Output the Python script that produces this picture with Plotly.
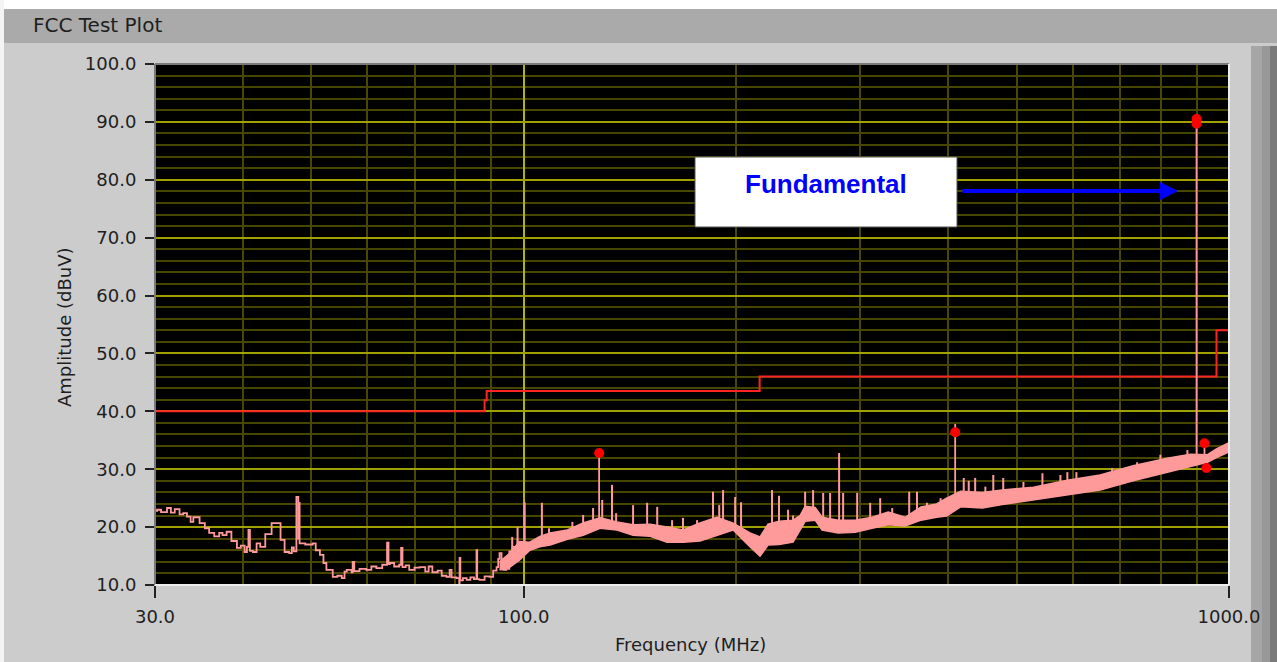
import plotly.graph_objects as go
import math

# ---------------- data ----------------
# FCC limit line (dBuV) vs frequency (MHz), step shape
limit_freq = [30.0, 88.0, 88.6, 216.0, 960.0, 1000.0]
limit_dbuv = [40.0, 41.9, 43.5, 46.0, 54.0, 54.0]

# low-frequency measured trace (thin line)
trace_freq = [30.0, 30.2, 30.6, 31.2, 31.6, 32.0, 32.5, 32.9, 33.3, 33.7, 34.0, 34.7, 35.3,
              35.8, 36.4, 37.0, 37.4, 37.9, 38.5, 39.2, 39.7, 40.2, 40.5, 40.7, 40.9, 41.3,
              41.8, 42.3, 43.0, 43.9, 44.6, 45.2, 45.8, 46.5, 46.9, 47.2, 47.6, 47.9, 48.0,
              48.1, 49.0, 50.2, 50.7, 51.4, 52.0, 52.5, 53.6, 54.4, 55.2, 55.7, 56.1, 57.0,
              57.2, 57.5, 58.5, 59.8, 60.8, 61.8, 63.0, 64.0, 64.3, 64.6, 65.5, 66.6, 67.0,
              67.3, 68.0, 68.8, 70.0, 71.2, 72.5, 73.3, 74.2, 75.5, 76.5, 77.7, 78.5, 79.0,
              80.3, 81.0, 81.1, 81.3, 82.0, 83.0, 84.0, 85.0, 85.7, 85.9, 86.5, 88.0, 89.4,
              90.5, 91.5, 92.0, 92.4, 93.0, 93.5, 94.5, 95.4, 96.4, 97.2, 98.0]
trace_dbuv = [22.8, 23.0, 22.6, 23.3, 22.5, 23.1, 22.2, 22.4, 21.8, 20.9, 21.7, 20.7, 19.8,
              19.0, 18.4, 19.0, 18.6, 19.2, 17.6, 16.4, 16.8, 15.7, 16.6, 19.5, 15.9, 15.7,
              17.2, 16.6, 18.8, 20.7, 20.7, 17.8, 15.7, 15.5, 16.5, 15.8, 25.2, 18.0, 24.2,
              17.2, 17.0, 17.2, 16.0, 15.2, 13.8, 12.6, 11.4, 11.6, 11.2, 12.3, 12.6, 12.2,
              14.0, 12.4, 12.8, 12.6, 13.2, 12.9, 13.5, 17.3, 13.6, 13.8, 13.2, 13.5, 16.4,
              13.1, 13.4, 12.6, 13.0, 13.1, 12.3, 13.2, 12.2, 12.5, 11.6, 11.4, 12.6, 11.3,
              11.2, 10.3, 14.7, 10.8, 11.2, 10.9, 11.3, 11.0, 16.0, 11.0, 10.9, 11.5, 11.4,
              12.5, 13.1, 14.5, 15.5, 13.5, 12.6, 12.8, 15.8, 16.6, 15.2, 18.0]

# dense noise band above ~92 MHz: lower and upper edges
band_freq = [92.4, 95.6, 98.6, 102.0, 105.4, 109.0, 115.3, 121.4, 128.3, 135.6, 142.9,
             151.1, 159.7, 168.2, 177.8, 187.9, 198.1, 209.3, 216.3, 222.0, 230.1, 240.9,
             246.5, 250.6, 258.9, 264.9, 279.1, 295.1, 311.9, 328.7, 347.4, 365.9, 385.0,
             397.7, 416.4, 447.0, 477.0, 528.1, 589.9, 656.6, 731.2, 817.8, 881.7, 932.2,
             960.0, 996.8, 1000.0]
band_low = [12.6, 13.1, 14.3, 16.0, 16.6, 16.9, 17.9, 18.6, 19.8, 19.5, 18.6,
            18.4, 17.4, 17.4, 17.6, 18.6, 19.5, 16.6, 15.0, 16.9, 17.0, 17.4,
            19.4, 21.0, 21.2, 19.5, 19.0, 19.1, 19.8, 20.4, 20.2, 21.2, 21.7,
            21.9, 23.5, 23.3, 23.9, 24.7, 25.5, 26.4, 28.0, 29.5, 30.4, 31.2,
            32.0, 32.8, 33.0]
band_high = [14.0, 15.5, 17.5, 17.4, 18.4, 19.0, 19.5, 20.7, 21.6, 20.9, 20.4,
             20.5, 20.0, 19.5, 20.7, 21.7, 20.7, 19.0, 18.3, 20.5, 21.0, 21.2,
             22.0, 23.6, 23.4, 21.7, 21.2, 21.2, 21.7, 22.6, 21.7, 23.5, 24.0,
             25.0, 26.2, 26.0, 26.4, 26.9, 28.1, 29.0, 30.6, 31.9, 32.6, 32.5,
             33.5, 34.5, 34.6]

# narrow spurious spikes above the band
spike_freq = [96.3, 98.0, 100.3, 106.1, 108.6, 117.2, 121.4, 125.4, 129.2, 133.4, 135.2,
              142.9, 149.6, 154.6, 162.3, 168.2, 176.1, 185.5, 189.3, 191.7, 199.4, 203.3,
              224.9, 230.1, 237.0, 240.9, 250.6, 257.2, 265.8, 271.9, 280.0, 283.7, 297.0,
              309.9, 320.2, 333.0, 352.0, 361.1, 373.1, 390.0, 420.6, 427.5, 436.6, 451.4,
              463.2, 478.5, 511.1, 543.8, 576.7, 589.9, 607.6, 682.8, 740.9, 799.3, 873.0]
spike_base = [14.5, 15.5, 16.5, 17.0, 17.5, 18.5, 19.0, 19.5, 20.0, 20.0, 20.0,
              19.5, 19.0, 18.5, 18.0, 18.0, 18.5, 19.5, 20.0, 20.0, 20.0, 19.5,
              18.5, 18.5, 18.5, 19.0, 22.0, 22.0, 21.0, 20.5, 20.5, 20.5, 20.5,
              20.5, 21.0, 21.5, 21.5, 21.5, 22.5, 23.0, 25.0, 25.0, 25.0, 25.0,
              25.0, 25.5, 26.0, 26.5, 27.0, 27.0, 27.5, 28.5, 30.0, 31.0, 32.0]
spike_top = [18.3, 20.0, 24.3, 24.2, 19.8, 20.9, 22.1, 23.3, 24.7, 27.3, 22.4,
             23.8, 24.2, 23.5, 21.2, 21.6, 21.2, 26.1, 23.8, 26.4, 25.2, 24.3,
             26.4, 25.4, 23.0, 22.0, 26.1, 26.4, 25.9, 25.9, 32.8, 25.9, 25.9,
             24.2, 25.0, 23.3, 26.1, 26.1, 24.2, 25.0, 28.5, 28.0, 28.5, 27.0,
             29.0, 28.5, 27.8, 29.3, 29.0, 29.5, 29.5, 30.2, 31.2, 32.5, 33.3]

# marked emissions (stems + red markers)
stem_freq = [127.9, 409.0, 899.5, 923.0]
stem_base = [21.0, 24.5, 32.0, 32.5]
stem_top = [32.8, 37.8, 90.5, 34.5]
marker_freq = [127.9, 409.0, 899.5, 899.5, 923.0, 929.0]
marker_dbuv = [32.8, 36.4, 90.5, 89.7, 34.5, 30.2]

y_ticks = [10, 20, 30, 40, 50, 60, 70, 80, 90, 100]
x_ticks = [30, 100, 1000]
x_ticktext = ["30.0", "100.0", "1000.0"]
x_minor = [40, 50, 60, 70, 80, 90, 200, 300, 400, 500, 600, 700, 800, 900]

# ---------------- layout helpers (pixel -> paper) ----------------
W, H = 1277, 662
L, R, T, B = 155, 48, 64, 77
PW, PH = W - L - R, H - T - B


def px(x):
    return (x - L) / PW


def py(y):
    return (H - B - y) / PH


PINK = "#ff9a9a"
RED = "#ff2424"
FONT = "DejaVu Sans"

fig = go.Figure()

# limit line
fig.add_trace(go.Scatter(x=limit_freq, y=limit_dbuv, mode="lines", line_shape="hv",
                         line=dict(color=RED, width=2), hoverinfo="skip"))

# noise band
fig.add_trace(go.Scatter(x=band_freq, y=band_low, mode="lines",
                         line=dict(color=PINK, width=1.5), hoverinfo="skip"))
fig.add_trace(go.Scatter(x=band_freq, y=band_high, mode="lines",
                         fill="tonexty", fillcolor=PINK,
                         line=dict(color=PINK, width=1.5), hoverinfo="skip"))

# thin low-frequency trace
fig.add_trace(go.Scatter(x=trace_freq, y=trace_dbuv, mode="lines", line_shape="hv",
                         line=dict(color=PINK, width=1.8), hoverinfo="skip"))

# spikes
sx, sy = [], []
for f, b, t in zip(spike_freq, spike_base, spike_top):
    sx += [f, f, None]
    sy += [b, t, None]
fig.add_trace(go.Scatter(x=sx, y=sy, mode="lines", line=dict(color=PINK, width=2),
                         hoverinfo="skip"))

# marker stems
mx, my = [], []
for f, b, t in zip(stem_freq, stem_base, stem_top):
    mx += [f, f, None]
    my += [b, t, None]
fig.add_trace(go.Scatter(x=mx, y=my, mode="lines", line=dict(color=PINK, width=1.8),
                         hoverinfo="skip"))

# markers
fig.add_trace(go.Scatter(x=marker_freq, y=marker_dbuv, mode="markers",
                         marker=dict(color="#ff0000", size=10, line=dict(width=0)),
                         hoverinfo="skip"))

shapes = [
    # white top strip and left strip
    dict(type="rect", xref="paper", yref="paper", x0=px(0), x1=px(W), y0=py(9), y1=py(0),
         fillcolor="#ffffff", line=dict(width=0), layer="below"),
    dict(type="rect", xref="paper", yref="paper", x0=px(0), x1=px(4), y0=py(H), y1=py(0),
         fillcolor="#f4f4f4", line=dict(width=0), layer="below"),
    # title bar
    dict(type="rect", xref="paper", yref="paper", x0=px(4), x1=px(W), y0=py(43), y1=py(9),
         fillcolor="#aaaaaa", line=dict(width=0), layer="below"),
    # right-hand bevel strips
    dict(type="rect", xref="paper", yref="paper", x0=px(1251), x1=px(1262), y0=py(H), y1=py(46),
         fillcolor="#a6a6a6", line=dict(width=0), layer="below"),
    dict(type="rect", xref="paper", yref="paper", x0=px(1262), x1=px(1270), y0=py(H), y1=py(46),
         fillcolor="#989898", line=dict(width=0), layer="below"),
    dict(type="rect", xref="paper", yref="paper", x0=px(1270), x1=px(W), y0=py(H), y1=py(46),
         fillcolor="#7a7a7a", line=dict(width=0), layer="below"),
    # plot bevel border
    dict(type="line", xref="paper", yref="paper", x0=0, x1=1, y0=1, y1=1,
         line=dict(color="#7a7a7a", width=2), layer="above"),
    dict(type="line", xref="paper", yref="paper", x0=0, x1=0, y0=0, y1=1,
         line=dict(color="#7a7a7a", width=2), layer="above"),
    dict(type="line", xref="paper", yref="paper", x0=0, x1=1, y0=0, y1=0,
         line=dict(color="#eeeeee", width=2), layer="above"),
    dict(type="line", xref="paper", yref="paper", x0=1, x1=1, y0=0, y1=1,
         line=dict(color="#eeeeee", width=2), layer="above"),
    # annotation box
    dict(type="rect", xref="paper", yref="paper", x0=px(695), x1=px(957), y0=py(227), y1=py(157),
         fillcolor="#ffffff", line=dict(color="#555555", width=1), layer="above"),
]

annotations = [
    dict(text="FCC Test Plot", xref="paper", yref="paper", x=px(31), y=py(25),
         xanchor="left", yanchor="middle", showarrow=False,
         font=dict(family=FONT, size=20, color="#1e1e1e")),
    dict(text="Frequency (MHz)", xref="paper", yref="paper", x=px(690), y=py(644),
         xanchor="center", yanchor="middle", showarrow=False,
         font=dict(family=FONT, size=18, color="#1e1e1e")),
    dict(text="Amplitude (dBuV)", xref="paper", yref="paper", x=px(64), y=py(327),
         xanchor="center", yanchor="middle", showarrow=False, textangle=-90,
         font=dict(family=FONT, size=18, color="#1e1e1e")),
    dict(text="<b>Fundamental</b>", xref="paper", yref="paper", x=px(826), y=py(184),
         xanchor="center", yanchor="middle", showarrow=False,
         font=dict(family="Liberation Sans", size=26, color="#0000ff")),
    dict(text="", xref="paper", yref="paper", x=px(1178), y=py(191),
         axref="pixel", ayref="pixel", ax=-(1178 - 961), ay=0,
         showarrow=True, arrowhead=2, arrowsize=0.9, arrowwidth=4, arrowcolor="#0000ff"),
]

fig.update_layout(
    width=W, height=H, autosize=False,
    margin=dict(l=L, r=R, t=T, b=B, pad=0),
    paper_bgcolor="#cccccc", plot_bgcolor="#000000",
    showlegend=False,
    shapes=shapes, annotations=annotations,
    xaxis=dict(type="log", range=[math.log10(30), math.log10(1000)],
               tickmode="array", tickvals=x_ticks, ticktext=x_ticktext,
               showgrid=True, gridcolor="#b4b400", gridwidth=2,
               ticks="outside", ticklen=12, tickwidth=1.5, tickcolor="#222222",
               ticklabelstandoff=3,
               tickfont=dict(family=FONT, size=18, color="#1e1e1e"),
               minor=dict(tickmode="array", tickvals=x_minor, showgrid=True,
                          gridcolor="#484800", gridwidth=1.5, ticks=""),
               zeroline=False, showline=False, fixedrange=True),
    yaxis=dict(range=[10, 100], tickmode="array", tickvals=y_ticks,
               tickformat=".1f",
               showgrid=True, gridcolor="#a0a000", gridwidth=2,
               ticks="outside", ticklen=9, tickwidth=1.5, tickcolor="#222222",
               ticklabelstandoff=5,
               tickfont=dict(family=FONT, size=18, color="#1e1e1e"),
               minor=dict(dtick=2, showgrid=True, gridcolor="#464600", gridwidth=1.5,
                          ticks=""),
               zeroline=False, showline=False, fixedrange=True),
)

fig.write_html("out.html")
